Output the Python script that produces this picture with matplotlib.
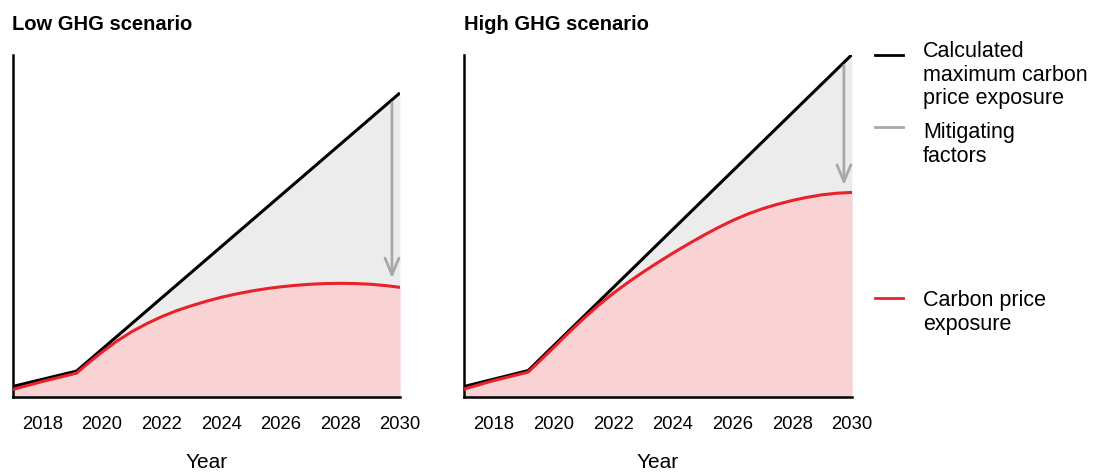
import numpy as np
import matplotlib
matplotlib.use("Agg")
from matplotlib import pyplot as plt
from matplotlib.lines import Line2D

plt.rcParams["font.family"] = ["Liberation Sans", "DejaVu Sans"]

# maximum exposure (black line), kinked just after 2019
max_years = [2017, 2019.15, 2030]
max_low = [10.5, 26, 305]
max_high = [10.5, 26.5, 343.5]

years = [2017, 2018, 2019.15, 2019.5, 2020, 2020.5, 2021, 2021.5, 2022, 2022.5,
         2023, 2023.5, 2024, 2024.5, 2025, 2025.5, 2026, 2026.5, 2027, 2027.5,
         2028, 2028.5, 2029, 2029.5, 2030]
red_low = [7.5, 15.5, 24, 33, 45, 56, 65.5, 73.5, 80.5, 86.5,
           91.5, 96, 100, 103.3, 106.2, 108.6, 110.5, 112, 113.1, 113.8,
           114, 113.8, 113.1, 111.8, 110]
red_high = [8, 16.5, 25, 35, 49.5, 64.3, 78.5, 91.8, 104, 115,
            125.3, 135, 144.3, 153.2, 161.7, 169.7, 177, 183.4, 188.8, 193.3,
            197.1, 200.3, 202.8, 204.4, 205.2]

# mitigating factors arrow (x, start, end)
arrow_low = (2029.73, 295, 119)
arrow_high = (2029.73, 332.5, 212.5)

titles = ["Low GHG scenario", "High GHG scenario"]
xticks = [2018, 2020, 2022, 2024, 2026, 2028, 2030]

BLACK = "#000000"
RED = "#e8212a"
PINK = "#f9d2d4"
GREY_FILL = "#ececec"
GREY = "#a7a8ac"


def panel(ax, title, black, red, arrow):
    ax.fill_between(max_years, black, color=GREY_FILL, lw=0)
    ax.fill_between(years, red, color=PINK, lw=0)
    ax.plot(max_years, black, color=BLACK, lw=2.2, solid_capstyle="butt", zorder=3)
    ax.plot(years, red, color=RED, lw=2.2, zorder=4)
    x, y0, y1 = arrow
    ax.annotate("", xy=(x, y1), xytext=(x, y0),
                arrowprops=dict(arrowstyle="->,head_length=0.6,head_width=0.25",
                                mutation_scale=20, color=GREY, lw=2,
                                shrinkA=0, shrinkB=0))
    ax.set_xlim(2017, 2030)
    ax.set_ylim(0, 343)
    ax.set_yticks([])
    ax.set_xticks(xticks)
    ax.tick_params(axis="x", length=0, pad=14, labelsize=13.3)
    for s in ["top", "right"]:
        ax.spines[s].set_visible(False)
    for s in ["left", "bottom"]:
        ax.spines[s].set_linewidth(1.8)
    ax.set_xlabel("Year", fontsize=15, labelpad=14)
    ax.text(0, 1.09, title, transform=ax.transAxes, fontsize=14.5,
            fontweight="bold", ha="left", va="center")


fig = plt.figure(figsize=(11.1, 4.73), dpi=100)
ax1 = fig.add_axes([12.5 / 1110, 76 / 473, 387.5 / 1110, 342 / 473])
ax2 = fig.add_axes([464 / 1110, 76 / 473, 388 / 1110, 342 / 473])
panel(ax1, titles[0], max_low, red_low, arrow_low)
panel(ax2, titles[1], max_high, red_high, arrow_high)

# legend
legend = [
    (BLACK, 55, "Calculated\nmaximum carbon\nprice exposure", 50),
    (GREY, 127, "Mitigating\nfactors", 131),
    (RED, 298, "Carbon price\nexposure", 299),
]
for color, ly, label, ty in legend:
    fig.add_artist(Line2D([875 / 1110, 903 / 1110], [1 - ly / 473, 1 - ly / 473],
                          color=color, lw=2, transform=fig.transFigure))
    fig.text(923 / 1110, 1 - (ty - 9) / 473, label, fontsize=15.5,
             ha="left", va="top", linespacing=1.17)

fig.savefig("out.png", dpi=100)
